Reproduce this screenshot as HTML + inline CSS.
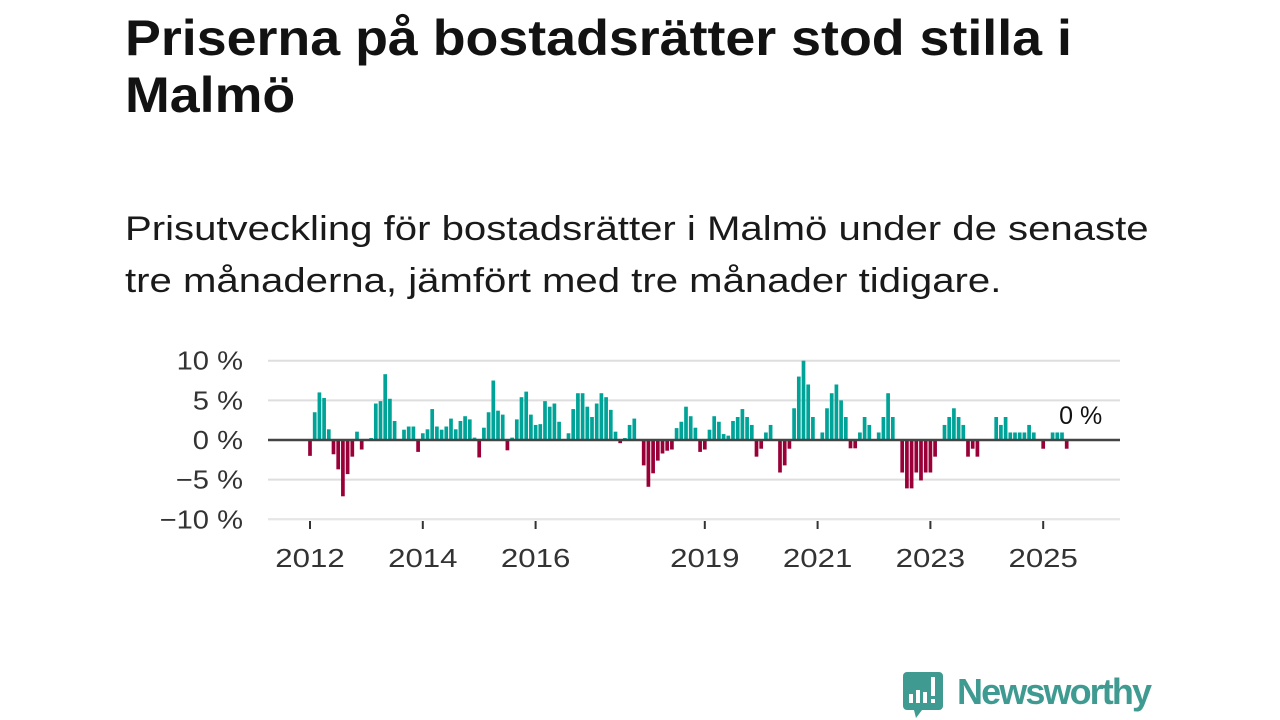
<!DOCTYPE html>
<html><head><meta charset="utf-8">
<style>
html,body{margin:0;padding:0;background:#fff;}
body{width:1280px;height:720px;position:relative;overflow:hidden;font-family:"Liberation Sans",sans-serif;color:#111;}
#title{position:absolute;left:125px;top:10px;font-size:50px;font-weight:bold;line-height:57px;margin:0;color:#121212;transform:scaleX(1.075);transform-origin:0 0;white-space:nowrap;}
#sub{position:absolute;left:125px;top:203px;font-size:34px;line-height:52px;margin:0;color:#1a1a1a;transform:scaleX(1.18);transform-origin:0 0;white-space:nowrap;}
svg{position:absolute;left:0;top:0;}
</style></head><body>
<h1 id="title">Priserna på bostadsrätter stod stilla i<br>Malmö</h1>
<p id="sub">Prisutveckling för bostadsrätter i Malmö under de senaste<br>tre månaderna, jämfört med tre månader tidigare.</p>
<svg id="chart" width="1280" height="720"></svg>
<script>
const values = [-2,3.5,6.0,5.3,1.35,-1.8,-3.7,-7.1,-4.3,-2.1,1.05,-1.2,0,0.25,4.6,4.9,8.3,5.2,2.4,0,1.3,1.7,1.7,-1.5,
0.85,1.35,3.9,1.7,1.3,1.7,2.7,1.35,2.4,3.0,2.6,0.3,-2.2,1.55,3.5,7.5,3.7,3.2,-1.3,0.3,2.6,5.4,6.1,3.2,
1.9,2.0,4.9,4.2,4.6,2.3,0,0.85,3.9,5.9,5.9,4.2,2.9,4.6,5.9,5.4,3.8,1.05,-0.4,0.25,1.9,2.7,0,-3.2,
-5.9,-4.2,-2.6,-1.7,-1.35,-1.2,1.5,2.3,4.2,3.0,1.55,-1.5,-1.2,1.3,3.0,2.3,0.75,0.55,2.4,2.9,3.9,2.9,
1.9,-2.1,-1.1,0.95,1.9,0,-4.1,-3.2,-1.1,4.0,8.0,10.0,7.0,2.9,0,0.95,4.0,5.9,7.0,5.0,2.9,-1.05,-1.05,0.95,
2.9,1.9,0,0.95,2.9,5.9,2.9,0,-4.1,-6.1,-6.1,-4.1,-5.1,-4.1,-4.1,-2.1,0,1.9,2.9,4.0,2.9,1.9,-2.1,-1.1,-2.1,
0,0,0,2.9,1.9,2.9,0.95,0.95,0.95,0.95,1.9,0.95,0,-1.1,0,0.95,0.95,0.95,-1.1];
const startYear = 2012;
const yTicks = [10,5,0,-5,-10];
const yTickLabels = ["10 %","5 %","0 %","\u22125 %","\u221210 %"];
const xYears = [2012,2014,2016,2019,2021,2023,2025];
const lastLabel = "0 %";

const svg = document.getElementById('chart');
const NS = 'http://www.w3.org/2000/svg';
const x0 = 310, pxMonth = 56.4/12, xL = 268, xR = 1120;
const y = v => 440 - v*7.93;
const xm = i => x0 + i*pxMonth;
function mk(tag, attrs){const e=document.createElementNS(NS,tag);for(const k in attrs)e.setAttribute(k,attrs[k]);svg.appendChild(e);return e;}
function widen(t,f){const w=t.getComputedTextLength();t.setAttribute('textLength',w*f);t.setAttribute('lengthAdjust','spacingAndGlyphs');}

yTicks.forEach((t,k)=>{
  if(t!==0){const g=mk('line',{x1:xL,x2:xR,y1:y(t),y2:y(t),stroke:'#dedede','stroke-width':2});
  
  }
  const tx=mk('text',{x:243,y:y(t)+9,'text-anchor':'end','font-size':26,fill:'#333','font-family':'Liberation Sans, sans-serif'});
  tx.textContent=yTickLabels[k];
  
  
  widen(tx,1.12);
});
const base=mk('line',{x1:xL,x2:xR,y1:y(-10),y2:y(-10),stroke:'#e8e8e8','stroke-width':1});



xYears.forEach(yr=>{
  const xx=xm((yr-startYear)*12);
  const tk=mk('line',{x1:xx,x2:xx,y1:521,y2:529,stroke:'#333','stroke-width':2});
  
  
  const tx=mk('text',{x:xx,y:567,'text-anchor':'middle','font-size':26,fill:'#333','font-family':'Liberation Sans, sans-serif'});
  tx.textContent=yr;
  
  
  widen(tx,1.2);
});

values.forEach((v,i)=>{
  if(v===0) return;
  const xx=xm(i)-1.85;
  const r=mk('rect',{x:xx,width:3.7,y:Math.min(y(v),y(0)),height:Math.abs(y(v)-y(0)),fill:v>0?'#00a397':'#990038'});
  
  
});
const zl=mk('line',{x1:xL,x2:xR,y1:y(0),y2:y(0),stroke:'#444','stroke-width':2.5});



const lt=mk('text',{x:xm(values.length-1)+14,y:424,'text-anchor':'middle','font-size':25,fill:'#111',stroke:'#fff','stroke-width':5,'paint-order':'stroke','font-family':'Liberation Sans, sans-serif'});
lt.textContent=lastLabel;


</script>
<svg width="1280" height="720" style="pointer-events:none">
  <path d="M907 672 h32 a4 4 0 0 1 4 4 v30 a4 4 0 0 1 -4 4 h-17 l-6 8 l-2 -8 h-7 a4 4 0 0 1 -4 -4 v-30 a4 4 0 0 1 4 -4z" fill="#3f9b91"/>
  <rect x="909" y="694" width="4" height="9" fill="#fff"/>
  <rect x="916" y="690" width="4" height="13" fill="#fff"/>
  <rect x="923" y="692" width="4" height="11" fill="#fff"/>
  <rect x="931" y="677" width="4" height="19" fill="#fff"/>
  <rect x="931" y="699" width="4" height="4" fill="#fff"/>
  <text x="957" y="704" font-size="36" font-weight="bold" fill="#3f9b91" font-family="Liberation Sans, sans-serif" textLength="195">Newsworthy</text>
</svg>
</body></html>
